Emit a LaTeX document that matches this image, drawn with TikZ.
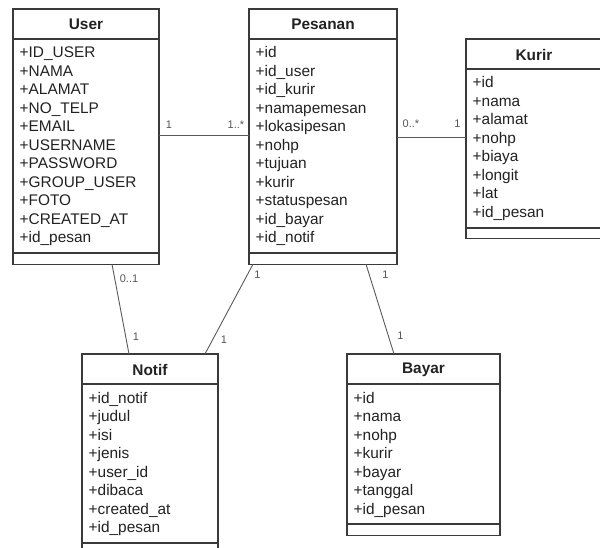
\documentclass[tikz,border=0pt]{standalone}
\usepackage{fontspec}
\setmainfont{Liberation Sans}
\usetikzlibrary{calc}

\definecolor{frame}{HTML}{3A3A3A}
\definecolor{ink}{HTML}{222222}
\definecolor{wire}{HTML}{5A5A5A}
\definecolor{mult}{HTML}{555555}

\tikzset{
  classframe/.style={draw=frame, line width=1.3pt, fill=white, inner sep=0pt, outer sep=0pt},
  classtitle/.style={font=\fontsize{15.4}{18}\selectfont\bfseries, text=ink, inner sep=0pt},
  attr/.style={font=\fontsize{15.4}{18}\selectfont, text=ink, inner sep=0pt, anchor=base west},
  headline/.style={draw=frame, line width=1.3pt},
  divline/.style={draw=frame, line width=2.2pt},
  assoc/.style={draw=wire, line width=0.9pt},
  multlabel/.style={font=\fontsize{11}{13}\selectfont, text=mult, inner sep=0pt}
}

% #1 name, #2 left, #3 top, #4 width, #5 number of attributes, #6 title, #7 attributes
\newcommand\classbox[7]{%
  \pgfmathsetmacro\boxh{30+19+(#5-1)*18.5+10.2+11}%
  \pgfmathsetmacro\divy{30+19+(#5-1)*18.5+10.2}%
  \node[classframe, minimum width=#4pt, minimum height=\boxh pt, anchor=north west] (#1) at (#2,#3) {};
  \node[classtitle] (#1-title) at ($(#1.north)+(0,15.5)$) {#6};
  \draw[headline] ([yshift=-30pt]#1.north west) -- ([yshift=-30pt]#1.north east);
  \draw[divline] ([yshift=-\divy pt]#1.north west) -- ([yshift=-\divy pt]#1.north east);
  \foreach \a [count=\i] in {#7} {
    \node[attr] (#1-\i) at ($(#1.north west)+(6.5,{49+(\i-1)*18.5})$) {\a};
  }
}

\begin{document}
\begin{tikzpicture}[x=1pt,y=-1pt]
  \clip (0,0) rectangle (600,548);
  \fill[white] (0,0) rectangle (600,548);

  \classbox{user}{13}{9}{146}{11}{User}{+ID\_USER,+NAMA,+ALAMAT,+NO\_TELP,+EMAIL,+USERNAME,+PASSWORD,+GROUP\_USER,+FOTO,+CREATED\_AT,+id\_pesan}
  \classbox{pesanan}{249}{9}{148}{11}{Pesanan}{+id,+id\_user,+id\_kurir,+namapemesan,+lokasipesan,+nohp,+tujuan,+kurir,+statuspesan,+id\_bayar,+id\_notif}
  \classbox{kurir}{466}{39}{136}{8}{Kurir}{+id,+nama,+alamat,+nohp,+biaya,+longit,+lat,+id\_pesan}
  \classbox{notif}{82}{354}{136}{8}{Notif}{+id\_notif,+judul,+isi,+jenis,+user\_id,+dibaca,+created\_at,+id\_pesan}
  \classbox{bayar}{347}{354}{153}{7}{Bayar}{+id,+nama,+nohp,+kurir,+bayar,+tanggal,+id\_pesan}

  % associations
  \draw[assoc] ([yshift=1.5pt]user.east) -- ([yshift=1.5pt]pesanan.west);
  \draw[assoc] ([yshift=1.5pt]pesanan.east |- kurir.west) -- ([yshift=1.5pt]kurir.west);
  \draw[assoc] ([xshift=26pt]user.south) -- ([xshift=-21pt]notif.north);
  \draw[assoc] ([xshift=4pt]pesanan.south west) -- ([xshift=55pt]notif.north);
  \draw[assoc] ([xshift=43pt]pesanan.south) -- ([xshift=-29.5pt]bayar.north);

  % multiplicities
  \node[multlabel] (m-up-a) at (169,125) {1};
  \node[multlabel] (m-up-b) at (236,125) {1..*};
  \node[multlabel] (m-pk-a) at (411,124) {0..*};
  \node[multlabel] (m-pk-b) at (457.5,124) {1};
  \node[multlabel] (m-un-a) at (129,279) {0..1};
  \node[multlabel] (m-un-b) at (136,337) {1};
  \node[multlabel] (m-pn-a) at (257.5,275) {1};
  \node[multlabel] (m-pn-b) at (224,340) {1};
  \node[multlabel] (m-pb-a) at (385.5,275) {1};
  \node[multlabel] (m-pb-b) at (400.5,336) {1};
\end{tikzpicture}
\end{document}
